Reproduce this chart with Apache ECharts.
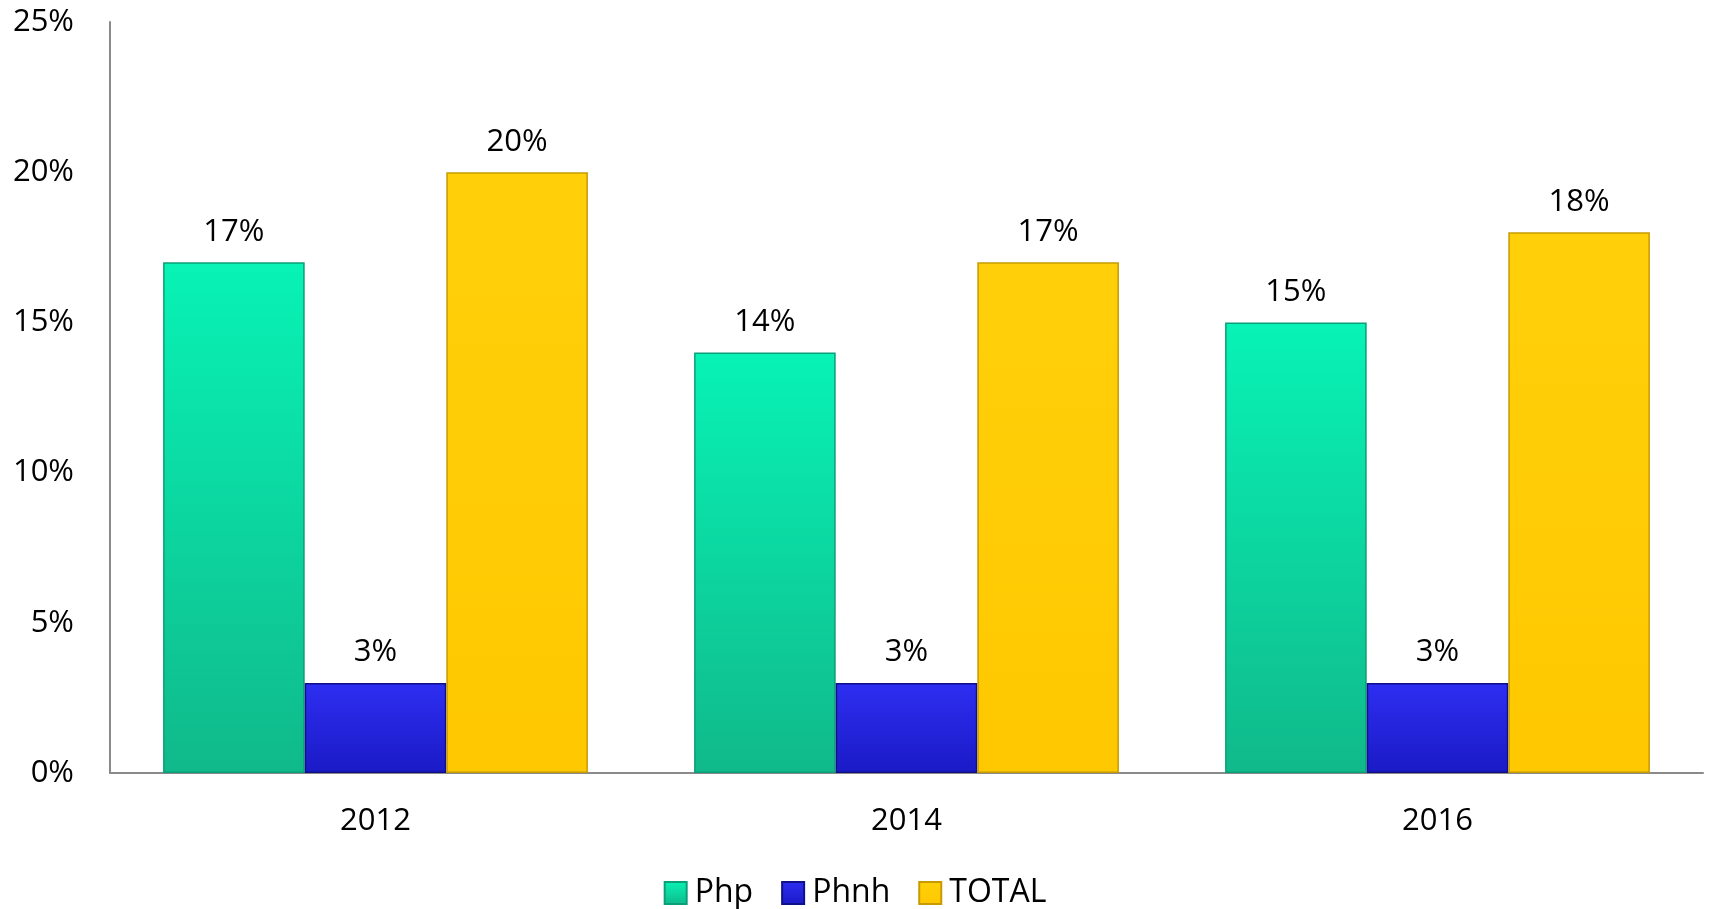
<!DOCTYPE html>
<html>
<head>
<meta charset="utf-8">
<script src="https://cdn.jsdelivr.net/npm/echarts@6/dist/echarts.min.js"></script>
<style>html,body{margin:0;padding:0;background:#fff}#c{width:1710px;height:909px}</style>
</head>
<body>
<div id="c"></div>
<script>
const categories = ['2012', '2014', '2016'];
const php = [17, 14, 15];
const phnh = [3, 3, 3];
const total = [20, 17, 18];
const yTicks = [0, 5, 10, 15, 20, 25];

const FONT = '"Open Sans", "Liberation Sans", sans-serif';
function grad(top, bottom) {
  return new echarts.graphic.LinearGradient(0, 0, 0, 1, [
    { offset: 0, color: top }, { offset: 1, color: bottom }
  ]);
}
const labelCfg = {
  show: true, position: 'top', distance: 15,
  formatter: p => p.value + '%',
  fontFamily: FONT, fontSize: 31, color: '#000'
};
const chart = echarts.init(document.getElementById('c'));
chart.setOption({
  animation: false,
  textStyle: { fontFamily: FONT },
  grid: { left: 110, right: 7, top: 22, bottom: 136 },
  legend: {
    top: 872, left: 'center', itemWidth: 22, itemHeight: 22, itemGap: 28,
    icon: 'rect',
    textStyle: { fontFamily: FONT, fontSize: 32, color: '#000', padding: [0, 0, 0, 3] },
    data: ['Php', 'Phnh', 'TOTAL']
  },
  xAxis: {
    type: 'category', data: categories,
    axisLine: { lineStyle: { color: '#8a8a8a', width: 2 } },
    axisTick: { show: false },
    axisLabel: { fontFamily: FONT, fontSize: 31, color: '#000', margin: 33 }
  },
  yAxis: {
    type: 'value', min: yTicks[0], max: yTicks[yTicks.length - 1], interval: 5,
    axisLine: { show: true, lineStyle: { color: '#8a8a8a', width: 2 } },
    axisTick: { show: false },
    splitLine: { show: false },
    axisLabel: { fontFamily: FONT, fontSize: 31, color: '#000', margin: 36, formatter: v => v + '%' }
  },
  series: [
    { name: 'Php', type: 'bar', data: php, barGap: '0%', barCategoryGap: '20%',
      itemStyle: { color: grad('#08f3b6', '#10b98a'), borderColor: '#0a9f78', borderWidth: 1.5 },
      label: labelCfg },
    { name: 'Phnh', type: 'bar', data: phnh,
      itemStyle: { color: grad('#2e2ef2', '#1a1ac6'), borderColor: '#10108a', borderWidth: 1.5 },
      label: labelCfg },
    { name: 'TOTAL', type: 'bar', data: total,
      itemStyle: { color: grad('#ffd00a', '#ffc800'), borderColor: '#c79a00', borderWidth: 1.5 },
      label: labelCfg }
  ]
});
</script>
</body>
</html>
